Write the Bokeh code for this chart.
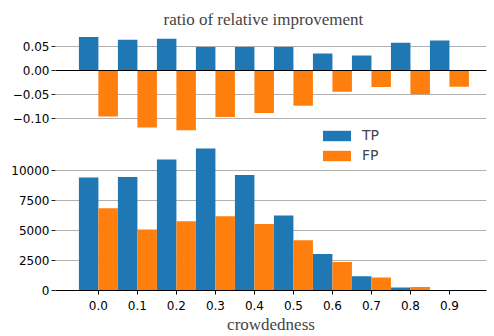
from bokeh.plotting import figure
from bokeh.layouts import column
from bokeh.models import (ColumnDataSource, FixedTicker, Span, Legend, LegendItem,
                          CustomJSTickFormatter, Range1d)
from bokeh.transform import dodge
from bokeh.embed import file_html
from bokeh.resources import INLINE

# ---- data ----
crowdedness = [0.0, 0.1, 0.2, 0.3, 0.4, 0.5, 0.6, 0.7, 0.8, 0.9]
tick_labels = ["0.0", "0.1", "0.2", "0.3", "0.4", "0.5", "0.6", "0.7", "0.8", "0.9"]
tp_count = [9450, 9500, 10950, 11870, 9660, 6270, 3060, 1200, 250, 10]
fp_count = [6880, 5100, 5790, 6210, 5570, 4200, 2390, 1090, 300, 5]
tp_ratio = [0.0694, 0.0638, 0.0659, 0.049, 0.049, 0.049, 0.0354, 0.031, 0.0575, 0.0625]
fp_ratio = [-0.0952, -0.118, -0.124, -0.0966, -0.0883, -0.073, -0.0438, -0.034, -0.049, -0.0334]
ratio_ticks = [-0.10, -0.05, 0.0, 0.05]
count_ticks = [0, 2500, 5000, 7500, 10000]

BLUE = "#1f77b4"
ORANGE = "#ff7f0e"
GRID = "#b0b0b0"
TICK_FONT = "DejaVu Sans"
SERIF = "Liberation Serif"

src = ColumnDataSource(dict(x=crowdedness, tp=tp_count, fp=fp_count,
                            tpr=tp_ratio, fpr=fp_ratio))

x_range = Range1d(-0.110, 0.995)

# ---- top panel ----
top = figure(width=494, height=131, output_backend="svg", toolbar_location=None,
             x_range=x_range, y_range=Range1d(-0.1265, 0.079),
             x_axis_location=None, min_border_left=55, min_border_right=8,
             min_border_bottom=0, min_border_top=32)
top.title.text = "ratio of relative improvement"
top.title.text_font = SERIF
top.title.text_font_size = "17px"
top.title.text_font_style = "normal"
top.title.align = "left"
top.title.offset = 108
top.title.standoff = 8
top.outline_line_color = None
top.border_fill_color = None
top.background_fill_color = None
top.xgrid.visible = False

top.vbar(x=dodge("x", -0.025), top="tpr", bottom=0, width=0.05, source=src,
         fill_color=BLUE, line_color=None)
top.vbar(x=dodge("x", 0.025), top="fpr", bottom=0, width=0.05, source=src,
         fill_color=ORANGE, line_color=None)
top.add_layout(Span(location=0, dimension="width", line_color="black", line_width=1.1))

yax = top.yaxis[0]
yax.ticker = FixedTicker(ticks=ratio_ticks)
yax.formatter = CustomJSTickFormatter(code="""
const v = Math.abs(tick) < 1e-9 ? 0 : tick;
return (v < 0 ? '\u2212' : '') + Math.abs(v).toFixed(2);
""")
yax.axis_line_color = None
yax.major_tick_out = 4
yax.major_tick_in = 0
yax.major_tick_line_color = "#222222"
yax.minor_tick_line_color = None
yax.major_label_standoff = 2
yax.major_label_text_font = TICK_FONT
yax.major_label_text_font_size = "12px"
yax.major_label_text_color = "black"
top.ygrid.ticker = FixedTicker(ticks=ratio_ticks)
top.ygrid.grid_line_color = GRID
top.ygrid.grid_line_width = 1

# ---- bottom panel (transparent; it overlaps the top panel a little so the
#      legend can reach up as in the original) ----
bot = figure(width=494, height=217, output_backend="svg", toolbar_location=None,
             x_range=x_range, y_range=Range1d(0, 13796),
             min_border_left=55, min_border_right=8, min_border_top=6,
             min_border_bottom=46,
             styles={"margin-top": "-12px", "position": "relative", "z-index": "1"})
bot.outline_line_color = None
bot.border_fill_color = None
bot.background_fill_color = None
bot.xgrid.visible = False

r_tp = bot.vbar(x=dodge("x", -0.025), top="tp", bottom=0, width=0.05, source=src,
                fill_color=BLUE, line_color=None)
r_fp = bot.vbar(x=dodge("x", 0.025), top="fp", bottom=0, width=0.05, source=src,
                fill_color=ORANGE, line_color=None)

byax = bot.yaxis[0]
byax.ticker = FixedTicker(ticks=count_ticks)
byax.axis_line_color = None
byax.major_tick_out = 4
byax.major_tick_in = 0
byax.major_tick_line_color = "#222222"
byax.minor_tick_line_color = None
byax.major_label_standoff = 2
byax.major_label_text_font = TICK_FONT
byax.major_label_text_font_size = "12px"
byax.major_label_text_color = "black"
bot.ygrid.ticker = FixedTicker(ticks=count_ticks)
bot.ygrid.grid_line_color = GRID
bot.ygrid.grid_line_width = 1

bxax = bot.xaxis[0]
bxax.ticker = FixedTicker(ticks=crowdedness)
bxax.major_label_overrides = {c: l for c, l in zip(crowdedness, tick_labels)}
bxax.axis_line_color = "black"
bxax.axis_line_width = 1
bxax.major_tick_out = 4
bxax.major_tick_in = 0
bxax.major_tick_line_color = "black"
bxax.minor_tick_line_color = None
bxax.major_label_standoff = 6
bxax.major_label_text_font = TICK_FONT
bxax.major_label_text_font_size = "12px"
bxax.major_label_text_color = "black"
bxax.axis_label = "crowdedness"
bxax.axis_label_text_font = SERIF
bxax.axis_label_text_font_size = "17px"
bxax.axis_label_text_font_style = "normal"
bxax.axis_label_standoff = 2

legend = Legend(items=[LegendItem(label="TP", renderers=[r_tp]),
                       LegendItem(label="FP", renderers=[r_fp])],
                location=(264, 127), orientation="vertical")
legend.glyph_width = 35
legend.glyph_height = 13
legend.label_height = 13
legend.label_standoff = 8
legend.spacing = 4
legend.padding = 0
legend.margin = 0
legend.border_line_color = None
legend.background_fill_alpha = 0
legend.label_text_font = TICK_FONT
legend.label_text_font_size = "14px"
bot.add_layout(legend, "center")

layout = column(top, bot, spacing=0)

open("out.html", "w").write(file_html(layout, INLINE))
